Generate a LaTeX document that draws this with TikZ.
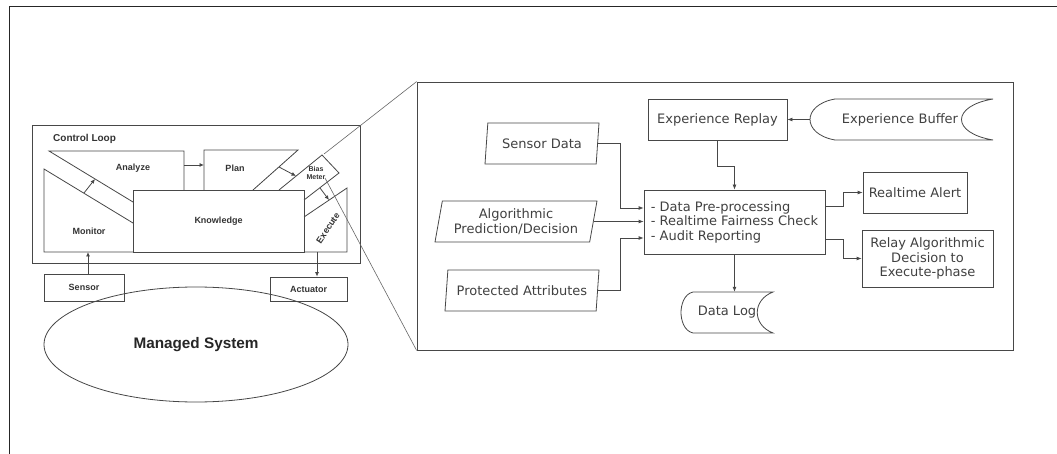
\documentclass[tikz,border=0pt]{standalone}
\usepackage{fontspec}
\setmainfont{DejaVu Sans}
\newfontfamily\lsans{Liberation Sans}
\usetikzlibrary{arrows.meta,shapes.geometric,calc}
\begin{document}
\begin{tikzpicture}[x=1pt,y=-1pt,
  line/.style={draw=black!72, line width=0.8pt},
  arr/.style={line, -{Latex[length=5pt,width=4pt]}},
  sarr/.style={line, -{Latex[length=4.5pt,width=4pt]}},
  zline/.style={draw=black!60, line width=0.6pt},
  ltxt/.style={font=\lsans\bfseries\fontsize{9}{10}\selectfont, text=black!80, inner sep=0pt},
  rtxt/.style={font=\fontsize{13}{14.5}\selectfont, text=black!75, inner sep=0pt},
  rbox/.style={rtxt, line, rectangle, align=center},
  lbox/.style={ltxt, line, rectangle},
  para/.style={rtxt, line, trapezium, trapezium left angle=74, trapezium right angle=106,
    trapezium stretches body, minimum height=41pt, align=center},
]
\useasboundingbox (0,0) rectangle (1057,454);
% outer frame
\draw[draw=black!85, line width=1pt] (9,454) -- (9,7) -- (1057,7);

% ---------- left: control loop ----------
\draw[line] (32,125) rectangle (360,263);
\node[ltxt, font=\lsans\bfseries\fontsize{10}{11}\selectfont, anchor=west] (cl) at (53,139) {Control Loop};

% Analyze
\draw[line] (133,202) -- (49,151) -- (184,151) -- (184,190);
% Monitor
\draw[line] (133,223) -- (44,169) -- (44,252) -- (133,252);
% Plan
\draw[line] (204,190) -- (204,150) -- (298,150) -- (253,190);
% Bias meter
\draw[line] (279,190) -- (322,155) -- (339,173) -- (304,200);
% Execute
\draw[line] (304,217) -- (347,188) -- (347,252) -- (304,252);
% Knowledge
\node[lbox, minimum width=171pt, minimum height=62pt] (kn) at (218.5,221) {Knowledge};

\node[ltxt] (an) at (133,168) {Analyze};
\node[ltxt] (mo) at (89,231) {Monitor};
\node[ltxt] (pl) at (235,168) {Plan};
\node[ltxt, font=\lsans\bfseries\fontsize{7}{8.5}\selectfont, align=center] (bm) at (316,173) {Bias\\Meter};
\node[ltxt, rotate=56] (ex) at (328,228) {Execute};

\coordinate (mt1) at (84,193);  \coordinate (mt2) at (95,179);
\coordinate (ap1) at (184,165); \coordinate (ap2) at (204,165);
\coordinate (pb1) at (279,167); \coordinate (pb2) at (296,176);
\coordinate (be1) at (320,188); \coordinate (be2) at (329,200);
\draw[sarr] (mt1) -- (mt2);
\draw[sarr] (ap1) -- (ap2);
\draw[sarr] (pb1) -- (pb2);
\draw[sarr] (be1) -- (be2);

% Sensor / Actuator / Managed system
\node[lbox, minimum width=80pt, minimum height=27pt] (sen) at (84,287.5) {Sensor};
\node[lbox, minimum width=77pt, minimum height=24pt] (act) at (308.5,289) {Actuator};
\coordinate (monbot) at (88,252);
\coordinate (exbot) at (317,252);
\draw[sarr] (sen.north -| monbot) -- (monbot);
\draw[sarr] (exbot) -- (exbot |- act.north);
\node[line, ellipse, minimum width=304pt, minimum height=115pt, inner sep=0pt,
  font=\lsans\bfseries\fontsize{15.3}{17}\selectfont, text=black!85] (ms) at (196,344.5) {Managed System};

% ---------- right panel ----------
\node[line, rectangle, minimum width=596pt, minimum height=268pt, inner sep=0pt] (panel) at (715,216) {};
\coordinate (bmtop) at (324,154);
\coordinate (bmmid) at (325,178);
\draw[zline] (bmtop) -- (panel.north west);
\draw[zline] (bmmid) -- (panel.south west);

\node[para, minimum width=114pt] (sd) at (542,143.5) {Sensor Data};
\node[para, minimum width=162pt] (alg) at (516,221.5) {Algorithmic\\Prediction/Decision};
\node[para, minimum width=154pt] (prot) at (522,290.5) {Protected Attributes};

\node[rbox, minimum width=181pt, minimum height=64pt, align=left] (main) at (734.5,222)
  {- Data Pre-processing\\- Realtime Fairness Check\\- Audit Reporting};
\node[rbox, minimum width=139pt, minimum height=41pt] (er) at (717.5,119.5) {Experience Replay};
\node[rbox, minimum width=104pt, minimum height=41pt] (alert) at (915,192.5) {Realtime Alert};
\node[rbox, minimum width=131pt, minimum height=57pt] (relay) at (927.5,258.5) {Relay Algorithmic\\Decision to\\Execute-phase};

% stored-data shapes
\draw[line] (835,99) -- (993,99) .. controls (951,106) and (951,133) .. (993,140) -- (835,140)
  .. controls (818,137) and (810,128) .. (810,119.5) .. controls (810,111) and (818,102) .. (835,99) -- cycle;
\node[rtxt, minimum width=183pt, minimum height=41pt] (eb) at (900,119.5) {Experience Buffer};
\coordinate (ebw) at (810,119.5);

\draw[line] (693,292) -- (773,292) .. controls (752,300) and (752,325) .. (773,333) -- (693,333)
  .. controls (684,331) and (681,320) .. (681,312.5) .. controls (681,305) and (684,294) .. (693,292) -- cycle;
\node[rtxt, minimum width=92pt, minimum height=41pt] (dlog) at (727,312.5) {Data Log};

% connectors
\draw[arr] (sd.east) -| ([xshift=-23pt,yshift=14pt]main.west) -- ([yshift=14pt]main.west);
\draw[arr] (alg.east) -- (alg.east -| main.west);
\draw[arr] (prot.east) -| ([xshift=-23pt,yshift=-16pt]main.west) -- ([yshift=-16pt]main.west);
\draw[arr] (er.south) |- ([yshift=23pt]main.north) -- (main.north);
\draw[arr] (ebw) -- (er.east);
\draw[arr] (main.south) -- (main.south |- dlog.north);
\draw[arr] ([yshift=16pt]main.east) -- ++(18,0) |- (alert.west);
\draw[arr] ([yshift=-17pt]main.east) -- ++(18,0) |- (relay.west);
\end{tikzpicture}
\end{document}
